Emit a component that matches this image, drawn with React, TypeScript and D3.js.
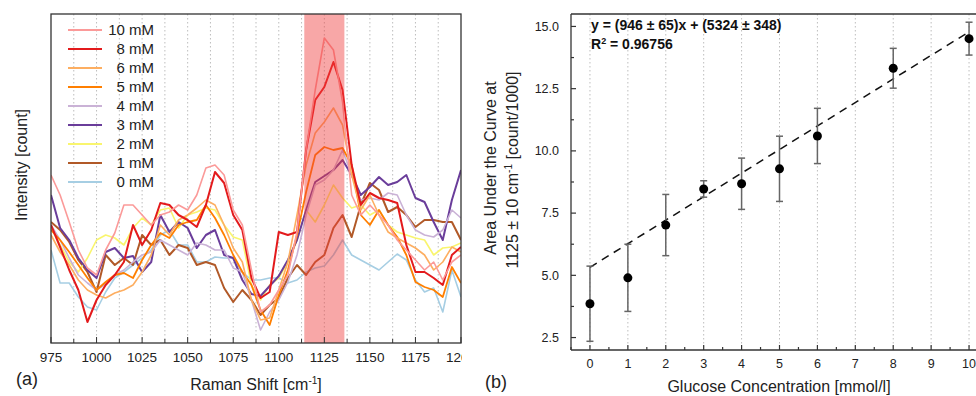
import React from "react";
import * as d3 from "d3";

const FONT = "'Liberation Sans', Arial, sans-serif";

// ---- panel (a): Raman spectra, intensity in arbitrary counts ----
const shifts = d3.range(975, 1201, 5);
const shiftTicks = [975, 1000, 1025, 1050, 1075, 1100, 1125, 1150, 1175, 1200];
const band = [1114, 1136];

const i0 = [93, 60, 60, 46, 36, 33, 51, 65, 71, 78, 85, 93, 108, 113, 98, 98, 81, 81, 86, 85, 85, 71, 63, 63, 65, 65, 60, 63, 71, 75, 77, 88, 103, 88, 83, 78, 73, 81, 89, 83, 63, 51, 55, 31, 73, 46];
const i1 = [121, 113, 101, 83, 71, 51, 88, 78, 85, 78, 108, 98, 103, 88, 98, 95, 78, 81, 78, 55, 41, 53, 43, 28, 38, 45, 65, 78, 68, 81, 88, 115, 128, 106, 138, 160, 153, 131, 136, 128, 116, 123, 123, 121, 121, 103];
const i2 = [115, 98, 81, 71, 85, 103, 108, 105, 98, 115, 125, 118, 133, 135, 115, 128, 131, 135, 133, 118, 106, 103, 58, 43, 58, 65, 81, 103, 133, 121, 138, 158, 145, 135, 138, 128, 133, 118, 111, 108, 105, 103, 88, 95, 96, 100];
const i3 = [148, 115, 103, 85, 73, 65, 91, 95, 85, 87, 71, 81, 128, 111, 121, 115, 95, 108, 113, 88, 85, 63, 49, 47, 57, 67, 83, 103, 133, 161, 167, 173, 183, 168, 148, 156, 166, 158, 161, 168, 145, 141, 121, 103, 143, 173];
const i4 = [118, 103, 85, 68, 60, 53, 59, 68, 73, 81, 88, 91, 103, 98, 93, 88, 100, 98, 93, 93, 75, 71, 43, 13, 31, 43, 61, 88, 128, 158, 163, 173, 193, 168, 143, 145, 143, 150, 148, 128, 113, 108, 106, 113, 133, 125];
const i5 = [113, 103, 91, 78, 65, 53, 61, 68, 70, 65, 83, 98, 110, 105, 118, 121, 123, 138, 125, 108, 88, 71, 58, 33, 18, 48, 73, 108, 151, 188, 196, 193, 195, 178, 128, 118, 133, 118, 106, 88, 61, 56, 53, 46, 76, 60];
const i6 = [108, 91, 78, 63, 53, 48, 45, 50, 53, 58, 71, 88, 118, 108, 123, 128, 135, 143, 138, 118, 95, 81, 43, 23, 25, 53, 81, 128, 178, 210, 221, 235, 218, 168, 133, 148, 128, 111, 105, 100, 95, 88, 73, 81, 96, 91];
const i8 = [118, 96, 73, 53, 21, 43, 58, 68, 81, 118, 98, 113, 140, 138, 128, 123, 116, 138, 171, 160, 128, 113, 65, 45, 51, 111, 108, 111, 193, 243, 256, 281, 253, 178, 138, 150, 145, 143, 140, 98, 71, 71, 65, 58, 88, 96];
const i10 = [168, 148, 121, 93, 75, 68, 93, 110, 138, 138, 128, 118, 128, 131, 138, 133, 148, 175, 178, 168, 133, 118, 73, 31, 38, 53, 68, 111, 193, 253, 305, 293, 241, 148, 128, 138, 128, 118, 103, 93, 83, 73, 81, 63, 81, 88];

const spectra = [
  { label: "10 mM", color: "#fb9a99", w: 1.6, values: i10 },
  { label: "8 mM", color: "#e31a1c", w: 2, values: i8 },
  { label: "6 mM", color: "#fdae61", w: 1.6, values: i6 },
  { label: "5 mM", color: "#ff7f00", w: 1.8, values: i5 },
  { label: "4 mM", color: "#cab2d6", w: 1.6, values: i4 },
  { label: "3 mM", color: "#6a3d9a", w: 2, values: i3 },
  { label: "2 mM", color: "#f9f56e", w: 1.6, values: i2 },
  { label: "1 mM", color: "#b15928", w: 2, values: i1 },
  { label: "0 mM", color: "#a6cee3", w: 1.6, values: i0 },
];

// ---- panel (b): calibration ----
const conc = [0, 1, 2, 3, 4, 5, 6, 8, 10];
const area = [3.86, 4.9, 7.02, 8.47, 8.68, 9.28, 10.6, 13.32, 14.51];
const areaErr = [1.51, 1.35, 1.23, 0.33, 1.03, 1.31, 1.11, 0.8, 0.66];
const slope = 0.946;
const intercept = 5.324;
const concTicks = d3.range(0, 11);
const areaTicks = [2.5, 5, 7.5, 10, 12.5, 15];

const axisColor = "#333";
const gridColor = "#bdbdbd";

export default function App() {
  // panel a
  const ax = d3.scaleLinear([975, 1200], [51, 461]);
  const ay = d3.scaleLinear([0, 329], [343, 14]);
  const line = d3
    .line<number>()
    .x((_, i) => ax(shifts[i]))
    .y((d) => ay(d));

  // panel b
  const bx = d3.scaleLinear([-0.5, 10.5], [571, 988]);
  const by = d3.scaleLinear([2, 15.5], [350, 14]);

  const aGrid = d3.range(987.5, 1200, 12.5);
  const bMinorX = d3.range(-0.5, 10.6, 0.5);
  const bMinorY = d3.range(2.5, 15.5, 1.25);

  return (
    <svg
      width={976}
      height={396}
      style={{ position: "absolute", top: 0, left: 0, background: "#fff" }}
      fontFamily={FONT}
    >
      <defs>
        <clipPath id="clipA">
          <rect x={51} y={14} width={410} height={329} />
        </clipPath>
        <clipPath id="clipALabels">
          <rect x={0} y={344} width={462} height={30} />
        </clipPath>
      </defs>

      {/* ---------- panel (a) ---------- */}
      <g>
        {aGrid.map((d) => (
          <line
            key={d}
            x1={ax(d)}
            x2={ax(d)}
            y1={14}
            y2={343}
            stroke={gridColor}
            strokeDasharray="1.5,2.5"
          />
        ))}
        <g clipPath="url(#clipA)">
          {spectra
            .slice()
            .reverse()
            .map((s) => (
              <path
                key={s.label}
                d={line(s.values) ?? ""}
                fill="none"
                stroke={s.color}
                strokeWidth={s.w}
                strokeLinejoin="round"
              />
            ))}
          <rect
            x={ax(band[0])}
            y={14}
            width={ax(band[1]) - ax(band[0])}
            height={329}
            fill="#f03c3c"
            fillOpacity={0.45}
          />
        </g>
        <rect x={51} y={14} width={410} height={329} fill="none" stroke={axisColor} strokeWidth={1.3} />
        {d3.range(975, 1201, 12.5).map((d, i) => (
          <line key={d} x1={ax(d)} x2={ax(d)} y1={343} y2={i % 2 ? 339 : 337} stroke={axisColor} />
        ))}
        <g clipPath="url(#clipALabels)">
          {shiftTicks.map((d) => (
            <text key={d} x={ax(d)} y={362} fontSize={13.5} textAnchor="middle" fill="#222">
              {d}
            </text>
          ))}
        </g>
        {/* legend */}
        {spectra.map((s, i) => (
          <g key={s.label} transform={`translate(0,${35 + i * 19})`}>
            <line x1={68} x2={102} y1={-5} y2={-5} stroke={s.color} strokeWidth={2.2} />
            <text x={154} y={0} fontSize={15} textAnchor="end" fill="#222">
              {s.label}
            </text>
          </g>
        ))}
        <text
          transform="translate(21,165) rotate(-90)"
          textAnchor="middle"
          dy="0.35em"
          fontSize={16}
          fill="#222"
        >
          Intensity [count]
        </text>
        <text x={256} y={390} textAnchor="middle" fontSize={16} fill="#222">
          Raman Shift [cm<tspan dy={-6} fontSize={10}>-1</tspan>
          <tspan dy={6}>]</tspan>
        </text>
        <text x={16} y={385} fontSize={18} fill="#222">
          (a)
        </text>
      </g>

      {/* ---------- panel (b) ---------- */}
      <g>
        {concTicks.map((d) => (
          <line
            key={d}
            x1={bx(d)}
            x2={bx(d)}
            y1={14}
            y2={350}
            stroke={gridColor}
            strokeDasharray="1.5,2.5"
          />
        ))}
        <line x1={571} x2={976} y1={14} y2={14} stroke={axisColor} strokeWidth={1.3} />
        <line x1={571} x2={571} y1={14} y2={350} stroke={axisColor} strokeWidth={1.3} />
        <line x1={571} x2={976} y1={350} y2={350} stroke={axisColor} strokeWidth={1.3} />
        {bMinorX.map((d, i) => (
          <line key={d} x1={bx(d)} x2={bx(d)} y1={350} y2={i % 2 ? 345 : 347} stroke={axisColor} strokeWidth={1.2} />
        ))}
        {bMinorY.map((d, i) => (
          <line key={d} x1={571} x2={i % 2 ? 574 : 576} y1={by(d)} y2={by(d)} stroke={axisColor} strokeWidth={1.2} />
        ))}
        {concTicks.map((d) => (
          <text key={d} x={bx(d)} y={368} fontSize={12.5} textAnchor="middle" fill="#222">
            {d}
          </text>
        ))}
        {areaTicks.map((d) => (
          <text key={d} x={559} y={by(d)} dy="0.35em" fontSize={12.5} textAnchor="end" fill="#222">
            {d.toFixed(1)}
          </text>
        ))}

        {/* fit line */}
        <line
          x1={bx(0)}
          y1={by(intercept)}
          x2={bx(10)}
          y2={by(intercept + slope * 10)}
          stroke="#111"
          strokeWidth={1.5}
          strokeDasharray="8,6"
        />

        {/* error bars + points */}
        {conc.map((c, i) => (
          <g key={c}>
            <line x1={bx(c)} x2={bx(c)} y1={by(area[i] - areaErr[i])} y2={by(area[i] + areaErr[i])} stroke="#666" strokeWidth={1.5} />
            <line x1={bx(c) - 3.5} x2={bx(c) + 3.5} y1={by(area[i] + areaErr[i])} y2={by(area[i] + areaErr[i])} stroke="#666" strokeWidth={1.5} />
            <line x1={bx(c) - 3.5} x2={bx(c) + 3.5} y1={by(area[i] - areaErr[i])} y2={by(area[i] - areaErr[i])} stroke="#666" strokeWidth={1.5} />
            <circle cx={bx(c)} cy={by(area[i])} r={4.5} fill="#000" />
          </g>
        ))}

        <text x={591} y={30} fontSize={14} fontWeight="bold" fill="#111">
          y = (946 ± 65)x + (5324 ± 348)
        </text>
        <text x={591} y={49} fontSize={14} fontWeight="bold" fill="#111">
          R<tspan dy={-5} fontSize={9}>2</tspan>
          <tspan dy={5}> = 0.96756</tspan>
        </text>

        <text transform="translate(490,168) rotate(-90)" textAnchor="middle" dy="0.35em" fontSize={16} fill="#222">
          Area Under the Curve at
        </text>
        <text transform="translate(512,170) rotate(-90)" textAnchor="middle" dy="0.35em" fontSize={16} fill="#222">
          1125 ± 10 cm<tspan dy={-6} fontSize={10}>-1</tspan>
          <tspan dy={6}> [count/1000]</tspan>
        </text>
        <text x={779} y={392} textAnchor="middle" fontSize={16} fill="#222">
          Glucose Concentration [mmol/l]
        </text>
        <text x={485} y={388} fontSize={18} fill="#222">
          (b)
        </text>
      </g>
    </svg>
  );
}
